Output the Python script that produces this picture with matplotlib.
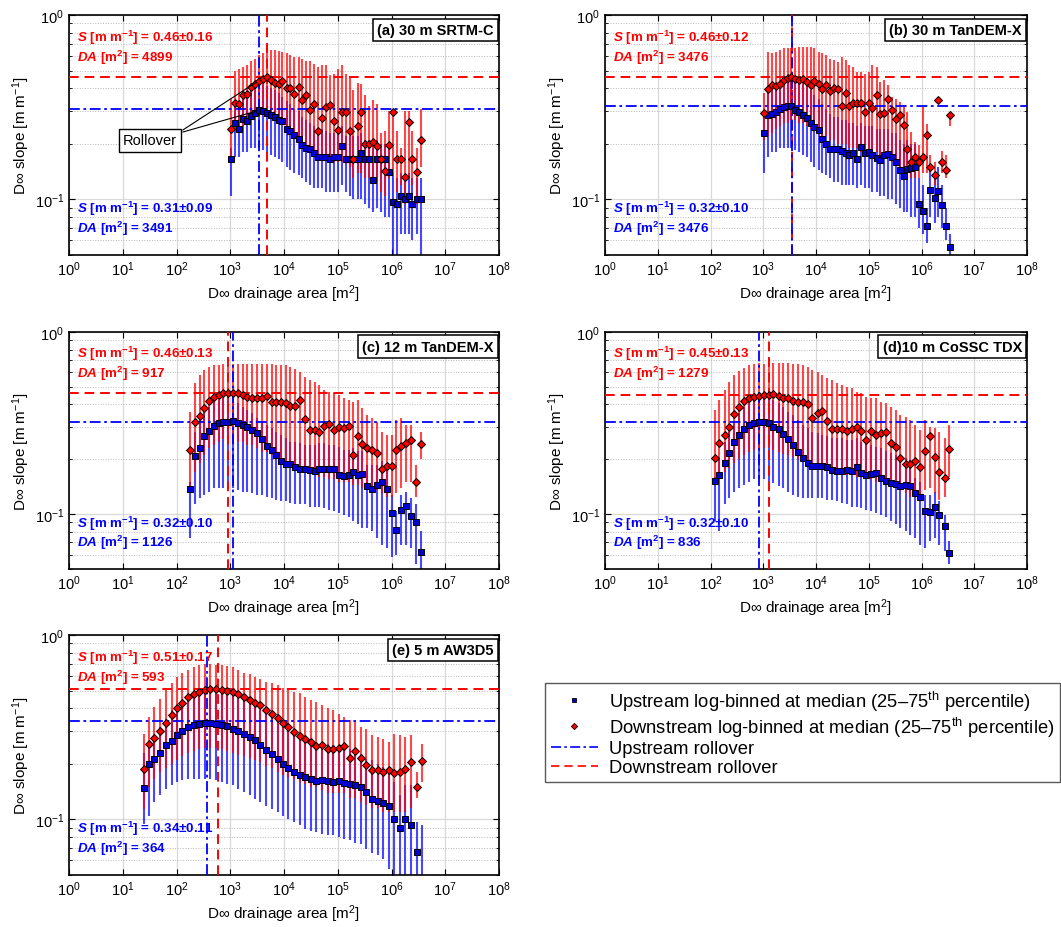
import numpy as np
import matplotlib
matplotlib.use('Agg')
import matplotlib.pyplot as plt
from matplotlib.lines import Line2D
from matplotlib.ticker import FixedLocator, NullFormatter, NullLocator

plt.rcParams['font.family'] = ['Liberation Sans', 'DejaVu Sans']
plt.rcParams['mathtext.fontset'] = 'custom'
plt.rcParams['mathtext.rm'] = 'Liberation Sans'
plt.rcParams['mathtext.it'] = 'Liberation Sans:italic:bold'
plt.rcParams['mathtext.bf'] = 'Liberation Sans:bold'

# log10 of bin drainage area [m2]
log_area_30m = [3.02, 3.09, 3.17, 3.24, 3.31, 3.39, 3.46, 3.53, 3.61, 3.68, 3.75, 3.83, 3.90, 3.97,
                4.05, 4.12, 4.19, 4.27, 4.34, 4.41, 4.49, 4.56, 4.63, 4.71, 4.78, 4.85, 4.93, 5.00,
                5.07, 5.15, 5.22, 5.29, 5.37, 5.44, 5.51, 5.59, 5.66, 5.73, 5.81, 5.88, 5.95, 6.03,
                6.10, 6.17, 6.25, 6.32, 6.39, 6.47, 6.54]
log_area_12m = [2.25, 2.34, 2.43, 2.52, 2.61, 2.70, 2.79, 2.87, 2.96, 3.05, 3.14, 3.23, 3.32, 3.41,
                3.50, 3.59, 3.68, 3.77, 3.86, 3.95, 4.04, 4.12, 4.21, 4.30, 4.39, 4.48, 4.57, 4.66,
                4.75, 4.84, 4.93, 5.02, 5.11, 5.20, 5.29, 5.37, 5.46, 5.55, 5.64, 5.73, 5.82, 5.91,
                6.00, 6.09, 6.18, 6.27, 6.36, 6.45, 6.54]
log_area_10m = [2.08, 2.17, 2.27, 2.36, 2.45, 2.54, 2.64, 2.73, 2.82, 2.91, 3.01, 3.10, 3.19, 3.29,
                3.38, 3.47, 3.56, 3.66, 3.75, 3.84, 3.93, 4.03, 4.12, 4.21, 4.30, 4.40, 4.49, 4.58,
                4.68, 4.77, 4.86, 4.95, 5.05, 5.14, 5.23, 5.32, 5.42, 5.51, 5.60, 5.70, 5.79, 5.88,
                5.97, 6.07, 6.16, 6.25, 6.34, 6.44, 6.53]
log_area_5m = [1.39, 1.49, 1.59, 1.70, 1.80, 1.91, 2.01, 2.11, 2.22, 2.32, 2.42, 2.53, 2.63, 2.74,
               2.84, 2.94, 3.05, 3.15, 3.25, 3.36, 3.46, 3.56, 3.67, 3.77, 3.88, 3.98, 4.08, 4.19,
               4.29, 4.39, 4.50, 4.60, 4.70, 4.81, 4.91, 5.02, 5.12, 5.22, 5.33, 5.43, 5.53, 5.64,
               5.74, 5.84, 5.95, 6.05, 6.16, 6.26, 6.36, 6.47, 6.57]

# (a) 30 m SRTM-C
up_a = [0.166, 0.261, 0.24, 0.272, 0.265, 0.284, 0.295, 0.304, 0.30, 0.296, 0.288, 0.28, 0.269, 0.265,
        0.242, 0.234, 0.224, 0.212, 0.197, 0.19, 0.188, 0.179, 0.17, 0.17, 0.17, 0.166, 0.17, 0.17,
        0.195, 0.166, 0.166, 0.165, 0.166, 0.179, 0.166, 0.165, 0.128, 0.166, 0.166, 0.166, 0.141,
        0.097, 0.094, 0.105, 0.10, 0.105, 0.094, 0.10, 0.10]
up_a_hi = [0.19, 0.33, 0.34, 0.36, 0.37, 0.39, 0.40, 0.42, 0.42, 0.41, 0.40, 0.39, 0.38, 0.36, 0.34,
           0.33, 0.31, 0.30, 0.28, 0.27, 0.26, 0.25, 0.24, 0.24, 0.235, 0.23, 0.23, 0.23, 0.25, 0.22,
           0.22, 0.22, 0.22, 0.23, 0.21, 0.21, 0.19, 0.21, 0.20, 0.20, 0.19, 0.14, 0.13, 0.14, 0.13,
           0.14, 0.13, 0.13, 0.13]
up_a_lo = [0.105, 0.17, 0.17, 0.18, 0.18, 0.19, 0.19, 0.19, 0.185, 0.18, 0.175, 0.17, 0.165, 0.16,
           0.15, 0.145, 0.14, 0.135, 0.13, 0.125, 0.12, 0.115, 0.115, 0.115, 0.11, 0.11, 0.11, 0.11,
           0.12, 0.11, 0.105, 0.10, 0.10, 0.10, 0.095, 0.09, 0.085, 0.09, 0.085, 0.08, 0.08, 0.04,
           0.045, 0.065, 0.065, 0.065, 0.06, 0.065, 0.04]
down_a = [0.24, 0.335, 0.33, 0.367, 0.374, 0.408, 0.425, 0.441, 0.449, 0.464, 0.447, 0.429, 0.422, 0.44,
          0.403, 0.40, 0.374, 0.406, 0.345, 0.37, 0.304, 0.331, 0.235, 0.277, 0.316, 0.327, 0.265,
          0.237, 0.298, 0.298, 0.236, 0.165, 0.251, 0.298, 0.20, 0.20, 0.205, 0.195, 0.166, 0.143,
          0.198, 0.298, 0.166, 0.166, 0.133, 0.264, 0.166, 0.141, 0.21]
down_a_hi = [0.35, 0.50, 0.51, 0.52, 0.535, 0.56, 0.58, 0.61, 0.62, 0.66, 0.645, 0.645, 0.64, 0.63,
             0.62, 0.61, 0.59, 0.59, 0.58, 0.56, 0.56, 0.545, 0.52, 0.535, 0.535, 0.47, 0.48, 0.51,
             0.535, 0.48, 0.46, 0.39, 0.43, 0.42, 0.37, 0.32, 0.345, 0.33, 0.23, 0.235, 0.30, 0.31,
             0.235, 0.19, 0.30, 0.30, 0.235, 0.19, 0.31]
down_a_lo = [0.17, 0.24, 0.23, 0.25, 0.26, 0.27, 0.28, 0.28, 0.29, 0.29, 0.28, 0.27, 0.26, 0.26, 0.25,
             0.24, 0.23, 0.22, 0.21, 0.20, 0.19, 0.18, 0.17, 0.17, 0.17, 0.165, 0.16, 0.16, 0.16,
             0.155, 0.15, 0.13, 0.14, 0.14, 0.13, 0.13, 0.13, 0.125, 0.11, 0.105, 0.13, 0.14, 0.11,
             0.12, 0.095, 0.13, 0.12, 0.095, 0.15]

# (b) 30 m TanDEM-X
up_b = [0.23, 0.286, 0.292, 0.298, 0.308, 0.317, 0.321, 0.321, 0.306, 0.298, 0.288, 0.276, 0.261,
        0.247, 0.237, 0.214, 0.199, 0.187, 0.187, 0.187, 0.182, 0.179, 0.175, 0.179, 0.165, 0.193,
        0.179, 0.181, 0.174, 0.168, 0.163, 0.174, 0.177, 0.17, 0.16, 0.144, 0.134, 0.146, 0.148,
        0.15, 0.094, 0.087, 0.072, 0.113, 0.102, 0.111, 0.093, 0.072, 0.055]
up_b_hi = [0.30, 0.40, 0.41, 0.42, 0.43, 0.44, 0.45, 0.45, 0.44, 0.43, 0.42, 0.41, 0.39, 0.37, 0.35,
           0.33, 0.31, 0.29, 0.28, 0.28, 0.27, 0.27, 0.26, 0.26, 0.25, 0.26, 0.25, 0.25, 0.25, 0.24,
           0.24, 0.24, 0.24, 0.23, 0.23, 0.21, 0.20, 0.21, 0.20, 0.20, 0.13, 0.12, 0.09, 0.15, 0.14,
           0.15, 0.12, 0.09, 0.065]
up_b_lo = [0.14, 0.17, 0.18, 0.18, 0.19, 0.19, 0.19, 0.19, 0.185, 0.18, 0.175, 0.17, 0.16, 0.15,
           0.145, 0.14, 0.135, 0.13, 0.125, 0.125, 0.12, 0.12, 0.12, 0.12, 0.115, 0.12, 0.115, 0.115,
           0.11, 0.11, 0.105, 0.105, 0.10, 0.10, 0.095, 0.09, 0.085, 0.085, 0.08, 0.08, 0.07, 0.065,
           0.058, 0.08, 0.075, 0.08, 0.07, 0.06, 0.045]
down_b = [0.296, 0.396, 0.417, 0.41, 0.425, 0.443, 0.456, 0.46, 0.452, 0.443, 0.449, 0.434, 0.417,
          0.44, 0.425, 0.396, 0.417, 0.386, 0.403, 0.396, 0.321, 0.38, 0.321, 0.335, 0.335, 0.332,
          0.298, 0.332, 0.314, 0.37, 0.292, 0.296, 0.351, 0.307, 0.274, 0.288, 0.254, 0.188, 0.16,
          0.17, 0.16, 0.17, 0.223, 0.15, 0.136, 0.348, 0.16, 0.144, 0.286]
down_b_hi = [0.38, 0.632, 0.62, 0.632, 0.645, 0.66, 0.66, 0.665, 0.665, 0.67, 0.67, 0.673, 0.667,
             0.665, 0.632, 0.62, 0.606, 0.58, 0.57, 0.557, 0.594, 0.57, 0.535, 0.524, 0.49, 0.49,
             0.48, 0.49, 0.535, 0.524, 0.434, 0.443, 0.417, 0.36, 0.352, 0.338, 0.324, 0.298, 0.232,
             0.205, 0.197, 0.317, 0.258, 0.174, 0.16, 0.36, 0.184, 0.174, 0.298]
down_b_lo = [0.21, 0.22, 0.23, 0.24, 0.25, 0.26, 0.26, 0.27, 0.27, 0.26, 0.26, 0.25, 0.24, 0.24, 0.23,
             0.22, 0.22, 0.21, 0.21, 0.20, 0.20, 0.20, 0.19, 0.19, 0.19, 0.18, 0.18, 0.18, 0.18, 0.18,
             0.17, 0.17, 0.17, 0.16, 0.16, 0.15, 0.15, 0.14, 0.13, 0.13, 0.13, 0.14, 0.14, 0.14, 0.12,
             0.34, 0.14, 0.13, 0.25]

# (c) 12 m TanDEM-X
up_c = [0.138, 0.208, 0.232, 0.267, 0.287, 0.306, 0.318, 0.322, 0.322, 0.325, 0.318, 0.309, 0.3,
        0.291, 0.279, 0.259, 0.238, 0.224, 0.21, 0.197, 0.188, 0.188, 0.181, 0.177, 0.176, 0.174,
        0.172, 0.177, 0.177, 0.177, 0.177, 0.164, 0.163, 0.164, 0.17, 0.165, 0.166, 0.142, 0.138,
        0.144, 0.15, 0.138, 0.101, 0.082, 0.105, 0.111, 0.098, 0.091, 0.062]
up_c_hi = [0.15, 0.284, 0.329, 0.365, 0.389, 0.414, 0.423, 0.432, 0.432, 0.414, 0.406, 0.389, 0.373,
           0.358, 0.336, 0.322, 0.309, 0.296, 0.284, 0.272, 0.261, 0.25, 0.25, 0.245, 0.24, 0.24,
           0.24, 0.245, 0.245, 0.24, 0.24, 0.235, 0.226, 0.226, 0.23, 0.221, 0.221, 0.187, 0.187,
           0.187, 0.195, 0.179, 0.128, 0.104, 0.128, 0.133, 0.123, 0.113, 0.081]
up_c_lo = [0.074, 0.113, 0.123, 0.128, 0.133, 0.139, 0.139, 0.139, 0.139, 0.139, 0.136, 0.133, 0.133,
           0.131, 0.128, 0.128, 0.125, 0.123, 0.12, 0.118, 0.118, 0.115, 0.113, 0.113, 0.113, 0.11,
           0.11, 0.11, 0.108, 0.106, 0.104, 0.101, 0.099, 0.096, 0.092, 0.088, 0.084, 0.084, 0.081,
           0.074, 0.068, 0.065, 0.058, 0.06, 0.068, 0.068, 0.065, 0.053, 0.049]
down_c = [0.224, 0.322, 0.346, 0.381, 0.42, 0.442, 0.45, 0.46, 0.46, 0.46, 0.46, 0.45, 0.442, 0.436,
          0.433, 0.433, 0.447, 0.414, 0.414, 0.411, 0.406, 0.394, 0.394, 0.423, 0.332, 0.288, 0.288,
          0.282, 0.306, 0.311, 0.289, 0.302, 0.299, 0.306, 0.21, 0.27, 0.244, 0.231, 0.226, 0.216,
          0.178, 0.184, 0.184, 0.225, 0.238, 0.245, 0.256, 0.15, 0.243]
down_c_hi = [0.365, 0.522, 0.58, 0.617, 0.644, 0.658, 0.663, 0.666, 0.663, 0.666, 0.668, 0.668, 0.666,
             0.666, 0.666, 0.668, 0.666, 0.666, 0.663, 0.663, 0.658, 0.644, 0.63, 0.605, 0.567, 0.544,
             0.533, 0.511, 0.48, 0.47, 0.46, 0.45, 0.432, 0.423, 0.414, 0.423, 0.381, 0.35, 0.336,
             0.322, 0.284, 0.272, 0.272, 0.329, 0.336, 0.309, 0.309, 0.187, 0.284]
down_c_lo = [0.14, 0.17, 0.19, 0.21, 0.23, 0.24, 0.25, 0.26, 0.26, 0.26, 0.25, 0.25, 0.24, 0.24, 0.23,
             0.22, 0.22, 0.21, 0.2, 0.2, 0.19, 0.185, 0.18, 0.18, 0.175, 0.17, 0.165, 0.16, 0.16, 0.155,
             0.155, 0.15, 0.15, 0.15, 0.145, 0.145, 0.14, 0.14, 0.135, 0.135, 0.13, 0.125, 0.125, 0.13,
             0.14, 0.15, 0.15, 0.125, 0.2]

# (d) 10 m CoSSC TDX
up_d = [0.153, 0.164, 0.191, 0.216, 0.249, 0.272, 0.294, 0.309, 0.316, 0.322, 0.322, 0.316, 0.3,
        0.294, 0.276, 0.259, 0.24, 0.219, 0.203, 0.192, 0.184, 0.184, 0.184, 0.181, 0.174, 0.172,
        0.172, 0.175, 0.172, 0.181, 0.168, 0.164, 0.166, 0.168, 0.158, 0.153, 0.148, 0.147, 0.142,
        0.144, 0.142, 0.13, 0.124, 0.104, 0.103, 0.109, 0.099, 0.086, 0.061]
up_d_hi = [0.16, 0.203, 0.25, 0.284, 0.322, 0.358, 0.389, 0.414, 0.432, 0.441, 0.441, 0.432, 0.423,
           0.406, 0.389, 0.365, 0.35, 0.329, 0.309, 0.296, 0.284, 0.278, 0.272, 0.267, 0.261, 0.261,
           0.261, 0.256, 0.256, 0.261, 0.25, 0.245, 0.24, 0.235, 0.23, 0.221, 0.216, 0.212, 0.207,
           0.203, 0.199, 0.158, 0.151, 0.128, 0.128, 0.133, 0.118, 0.099, 0.071]
up_d_lo = [0.092, 0.081, 0.113, 0.123, 0.133, 0.139, 0.145, 0.151, 0.155, 0.155, 0.155, 0.151, 0.148,
           0.142, 0.139, 0.133, 0.128, 0.125, 0.123, 0.123, 0.123, 0.123, 0.123, 0.12, 0.12, 0.118,
           0.115, 0.113, 0.11, 0.11, 0.108, 0.106, 0.104, 0.101, 0.099, 0.096, 0.092, 0.088, 0.084,
           0.081, 0.077, 0.074, 0.068, 0.065, 0.071, 0.074, 0.068, 0.063, 0.053]
down_d = [0.203, 0.245, 0.272, 0.302, 0.353, 0.387, 0.418, 0.432, 0.44, 0.447, 0.45, 0.45, 0.456,
          0.447, 0.436, 0.432, 0.418, 0.411, 0.414, 0.40, 0.339, 0.358, 0.368, 0.325, 0.294, 0.293,
          0.294, 0.287, 0.294, 0.302, 0.287, 0.256, 0.287, 0.272, 0.278, 0.284, 0.245, 0.235, 0.203,
          0.188, 0.188, 0.195, 0.181, 0.221, 0.267, 0.207, 0.171, 0.158, 0.229]
down_d_hi = [0.373, 0.423, 0.48, 0.533, 0.58, 0.61, 0.636, 0.658, 0.671, 0.677, 0.671, 0.671, 0.677,
             0.677, 0.677, 0.677, 0.671, 0.666, 0.658, 0.644, 0.617, 0.605, 0.58, 0.556, 0.544, 0.522,
             0.511, 0.5, 0.49, 0.47, 0.46, 0.441, 0.432, 0.432, 0.414, 0.406, 0.389, 0.373, 0.35,
             0.343, 0.329, 0.309, 0.29, 0.329, 0.302, 0.296, 0.284, 0.261, 0.309]
down_d_lo = [0.151, 0.16, 0.17, 0.18, 0.19, 0.2, 0.21, 0.22, 0.225, 0.23, 0.23, 0.23, 0.225, 0.22,
             0.215, 0.21, 0.205, 0.2, 0.195, 0.19, 0.185, 0.18, 0.18, 0.175, 0.17, 0.17, 0.165, 0.165,
             0.165, 0.16, 0.16, 0.155, 0.155, 0.15, 0.15, 0.15, 0.145, 0.14, 0.135, 0.13, 0.125, 0.125,
             0.12, 0.135, 0.14, 0.13, 0.12, 0.125, 0.16]

# (e) 5 m AW3D5
up_e = [0.148, 0.199, 0.212, 0.229, 0.252, 0.267, 0.288, 0.30, 0.317, 0.324, 0.331, 0.335, 0.335,
        0.331, 0.327, 0.321, 0.311, 0.302, 0.29, 0.28, 0.269, 0.252, 0.239, 0.227, 0.212, 0.201,
        0.19, 0.181, 0.175, 0.17, 0.165, 0.161, 0.164, 0.161, 0.16, 0.161, 0.158, 0.156, 0.154,
        0.15, 0.141, 0.129, 0.126, 0.123, 0.119, 0.10, 0.09, 0.10, 0.093, 0.067, 0.045]
up_e_hi = [0.23, 0.252, 0.286, 0.317, 0.352, 0.391, 0.417, 0.443, 0.472, 0.492, 0.513, 0.524, 0.524,
           0.513, 0.502, 0.492, 0.472, 0.462, 0.443, 0.425, 0.408, 0.391, 0.375, 0.36, 0.338, 0.324,
           0.311, 0.298, 0.286, 0.274, 0.269, 0.263, 0.263, 0.258, 0.252, 0.252, 0.247, 0.242, 0.237,
           0.227, 0.214, 0.209, 0.201, 0.192, 0.18, 0.16, 0.135, 0.153, 0.153, 0.097, 0.093]
up_e_lo = [0.094, 0.105, 0.124, 0.135, 0.147, 0.153, 0.16, 0.163, 0.166, 0.166, 0.166, 0.166, 0.166,
           0.163, 0.16, 0.156, 0.153, 0.147, 0.141, 0.135, 0.129, 0.124, 0.119, 0.114, 0.11, 0.105,
           0.101, 0.097, 0.093, 0.089, 0.087, 0.085, 0.083, 0.082, 0.082, 0.08, 0.078, 0.077, 0.075,
           0.074, 0.069, 0.066, 0.064, 0.061, 0.054, 0.05, 0.05, 0.05, 0.05, 0.045, 0.045]
down_e = [0.187, 0.255, 0.277, 0.302, 0.335, 0.37, 0.40, 0.429, 0.46, 0.478, 0.492, 0.502, 0.509,
          0.509, 0.502, 0.496, 0.488, 0.476, 0.462, 0.447, 0.43, 0.416, 0.394, 0.375, 0.357, 0.335,
          0.317, 0.298, 0.284, 0.274, 0.263, 0.249, 0.254, 0.24, 0.24, 0.245, 0.249, 0.215, 0.234,
          0.215, 0.198, 0.185, 0.185, 0.181, 0.185, 0.179, 0.181, 0.188, 0.205, 0.15, 0.207]
down_e_hi = [0.292, 0.36, 0.408, 0.452, 0.502, 0.546, 0.594, 0.619, 0.645, 0.673, 0.687, 0.693, 0.693,
             0.687, 0.687, 0.681, 0.667, 0.645, 0.619, 0.611, 0.594, 0.581, 0.557, 0.546, 0.535, 0.513,
             0.502, 0.492, 0.482, 0.462, 0.443, 0.434, 0.417, 0.40, 0.391, 0.375, 0.36, 0.345, 0.338,
             0.317, 0.311, 0.286, 0.28, 0.274, 0.263, 0.292, 0.286, 0.28, 0.286, 0.181, 0.258]
down_e_lo = [0.114, 0.15, 0.165, 0.18, 0.19, 0.2, 0.21, 0.22, 0.23, 0.235, 0.24, 0.245, 0.245, 0.245,
             0.24, 0.235, 0.23, 0.225, 0.22, 0.215, 0.21, 0.205, 0.195, 0.19, 0.18, 0.175, 0.17, 0.165,
             0.16, 0.155, 0.15, 0.15, 0.145, 0.14, 0.14, 0.14, 0.14, 0.13, 0.13, 0.125, 0.12, 0.115,
             0.115, 0.11, 0.11, 0.11, 0.11, 0.11, 0.115, 0.13, 0.16]

# rollover results: (S, +-, DA) for downstream and upstream
panel_labels = ['(a) 30 m SRTM-C', '(b) 30 m TanDEM-X', '(c) 12 m TanDEM-X',
                '(d)10 m CoSSC TDX', '(e) 5 m AW3D5']
down_roll_s = [0.46, 0.46, 0.46, 0.45, 0.51]
down_roll_err = [0.16, 0.12, 0.13, 0.13, 0.17]
down_roll_da = [4899, 3476, 917, 1279, 593]
up_roll_s = [0.31, 0.32, 0.32, 0.32, 0.34]
up_roll_err = [0.09, 0.10, 0.10, 0.10, 0.11]
up_roll_da = [3491, 3476, 1126, 836, 364]

RED = '#ff0000'
BLUE = '#0000ff'

W, H = 1061, 928
fig = plt.figure(figsize=(W / 100, H / 100), dpi=100)

# axes boxes in pixels: left, top, right, bottom
boxes = [(69, 16, 499, 256), (605, 16, 1027, 256),
         (69, 333, 499, 570), (605, 333, 1027, 570),
         (69, 636, 499, 876)]

panel_data = [
    (log_area_30m, up_a, up_a_lo, up_a_hi, down_a, down_a_lo, down_a_hi),
    (log_area_30m, up_b, up_b_lo, up_b_hi, down_b, down_b_lo, down_b_hi),
    (log_area_12m, up_c, up_c_lo, up_c_hi, down_c, down_c_lo, down_c_hi),
    (log_area_10m, up_d, up_d_lo, up_d_hi, down_d, down_d_lo, down_d_hi),
    (log_area_5m, up_e, up_e_lo, up_e_hi, down_e, down_e_lo, down_e_hi),
]

axes = []
for i, (l, t, r, b) in enumerate(boxes):
    ax = fig.add_axes([l / W, 1 - b / H, (r - l) / W, (b - t) / H])
    axes.append(ax)
    log_area, up, up_lo, up_hi, down, down_lo, down_hi = panel_data[i]
    area = 10.0 ** np.array(log_area)

    ax.set_xscale('log')
    ax.set_yscale('log')

    # interquartile bars
    ax.vlines(area, up_lo, up_hi, color=BLUE, alpha=0.72, lw=1.5, zorder=2)
    ax.vlines(area, down_lo, down_hi, color=RED, alpha=0.72, lw=1.5, zorder=3)

    # rollover lines
    ax.axhline(down_roll_s[i], color=RED, lw=1.4, ls=(0, (5, 3)), zorder=3.5)
    ax.axvline(down_roll_da[i], color=RED, lw=1.4, ls=(0, (5, 3)), zorder=3.5)
    ax.axhline(up_roll_s[i], color=BLUE, lw=1.3, ls=(0, (6, 2, 1.5, 2)), zorder=3.5)
    ax.axvline(up_roll_da[i], color=BLUE, lw=1.3, ls=(0, (6, 2, 1.5, 2)), zorder=3.5)

    # medians
    ax.plot(area, up, ls='none', marker='s', ms=4.6, mfc='#0000d0', mec='black', mew=0.7, zorder=4)
    ax.plot(area, down, ls='none', marker='D', ms=4.2, mfc='#ff0000', mec='black', mew=0.7, zorder=5)

    ax.set_xlim(1, 1e8)
    ax.set_ylim(0.05, 1)
    ax.xaxis.set_major_locator(FixedLocator(10.0 ** np.arange(0, 9)))
    ax.xaxis.set_minor_locator(NullLocator())
    ax.yaxis.set_major_locator(FixedLocator([0.1, 1.0]))
    ax.yaxis.set_minor_locator(FixedLocator([0.05, 0.06, 0.07, 0.08, 0.09,
                                             0.2, 0.3, 0.4, 0.5, 0.6, 0.7, 0.8, 0.9]))
    ax.yaxis.set_minor_formatter(NullFormatter())
    ax.grid(True, which='major', color='0.85', lw=0.9, ls='-')
    ax.grid(True, which='minor', axis='y', color='0.72', lw=0.7, ls=':')
    ax.set_axisbelow(True)
    ax.tick_params(which='both', direction='in', top=True, right=True, labelsize=10.5)
    ax.tick_params(which='major', length=4, width=0.8)
    ax.tick_params(which='minor', length=2.5, width=0.6)
    for sp in ax.spines.values():
        sp.set_linewidth(1.2)

    ax.set_xlabel('D\u221e drainage area [m$^{\\mathdefault{2}}$]', fontsize=11, labelpad=3)
    ax.set_ylabel('D\u221e slope [m m$^{\\mathdefault{-1}}$]', fontsize=11, labelpad=2)

    # rollover statistics text
    ax.text(0.018, 0.91,
            r'$\mathit{S}$ [m m$^{\mathbf{-1}}$] = ' + f'{down_roll_s[i]:.2f}\u00b1{down_roll_err[i]:.2f}',
            transform=ax.transAxes, color=RED, fontsize=9.6, fontweight='bold', va='center', zorder=7)
    ax.text(0.018, 0.827, r'$\mathit{DA}$ [m$^{\mathbf{2}}$] = ' + f'{down_roll_da[i]}',
            transform=ax.transAxes, color=RED, fontsize=9.6, fontweight='bold', va='center', zorder=7)
    ax.text(0.018, 0.196,
            r'$\mathit{S}$ [m m$^{\mathbf{-1}}$] = ' + f'{up_roll_s[i]:.2f}\u00b1{up_roll_err[i]:.2f}',
            transform=ax.transAxes, color=BLUE, fontsize=9.6, fontweight='bold', va='center', zorder=7)
    ax.text(0.018, 0.113, r'$\mathit{DA}$ [m$^{\mathbf{2}}$] = ' + f'{up_roll_da[i]}',
            transform=ax.transAxes, color=BLUE, fontsize=9.6, fontweight='bold', va='center', zorder=7)

    # panel label box
    ax.text(0.988, 0.967, panel_labels[i], transform=ax.transAxes, ha='right', va='top',
            fontsize=10.5, fontweight='bold', zorder=8,
            bbox=dict(boxstyle='square,pad=0.3', fc='white', ec='black', lw=1.1))

# rollover call-out in panel (a)
ax_a = axes[0]
area_a = 10.0 ** np.array(log_area_30m)
ax_a.text(32, 0.209, 'Rollover', fontsize=10.5, ha='center', va='center', zorder=9,
          bbox=dict(boxstyle='square,pad=0.3', fc='white', ec='black', lw=1.0))
for target, start_y in ((down_a[7], 0.238), (up_a[7], 0.232)):
    ax_a.annotate('', xy=(area_a[7], target), xytext=(131, start_y), zorder=9,
                  arrowprops=dict(arrowstyle='-', color='black', lw=0.8, shrinkA=0, shrinkB=2))

# legend
handles = [
    Line2D([], [], ls='none', marker='s', ms=3.5, mfc='#0000d0', mec='black', mew=0.6),
    Line2D([], [], ls='none', marker='D', ms=3.2, mfc='#ff0000', mec='black', mew=0.6),
    Line2D([], [], color=BLUE, lw=1.2, ls=(0, (6, 2, 1.5, 2))),
    Line2D([], [], color=RED, lw=1.2, ls=(0, (5, 3))),
]
labels = ['Upstream log-binned at median (25\u201375$^{\\mathdefault{th}}$ percentile)',
          'Downstream log-binned at median (25\u201375$^{\\mathdefault{th}}$ percentile)',
          'Upstream rollover', 'Downstream rollover']
leg = fig.legend(handles, labels, loc='upper left', bbox_to_anchor=(545 / W, 1 - 684 / H),
                 fontsize=13.2, frameon=True, fancybox=False, edgecolor='0.35', framealpha=1,
                 borderaxespad=0, borderpad=0.3, handlelength=2.6, handletextpad=0.6,
                 labelspacing=0.1)
leg.get_frame().set_linewidth(1.0)

fig.savefig('out.png', dpi=100)
